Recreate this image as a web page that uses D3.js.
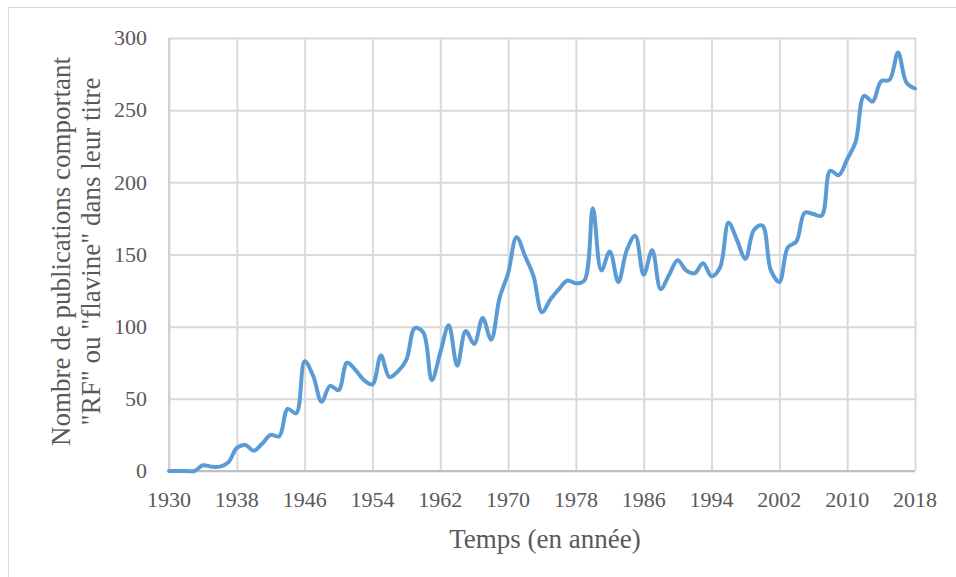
<!DOCTYPE html>
<html lang="fr">
<head>
    <meta charset="UTF-8">
    <title>Publications RF / flavine</title>
    <script src="https://d3js.org/d3.v7.min.js"></script>
    <style>
        body {
            margin: 0;
            background-color: #fff;
        }
        svg text {
            font-family: "Liberation Serif", "Times New Roman", serif;
        }
        .tick-label {
            font-size: 22px;
            fill: #595959;
        }
        .axis-title {
            font-size: 27px;
            fill: #595959;
        }
    </style>
</head>
<body>
    <div id="chart"></div>
    <script>
        // Years and yearly counts
        const years = [
            1930, 1931, 1932, 1933, 1934, 1935, 1936, 1937, 1938, 1939,
            1940, 1941, 1942, 1943, 1944, 1945, 1946, 1947, 1948, 1949,
            1950, 1951, 1952, 1953, 1954, 1955, 1956, 1957, 1958, 1959,
            1960, 1961, 1962, 1963, 1964, 1965, 1966, 1967, 1968, 1969,
            1970, 1971, 1972, 1973, 1974, 1975, 1976, 1977, 1978, 1979,
            1980, 1981, 1982, 1983, 1984, 1985, 1986, 1987, 1988, 1989,
            1990, 1991, 1992, 1993, 1994, 1995, 1996, 1997, 1998, 1999,
            2000, 2001, 2002, 2003, 2004, 2005, 2006, 2007, 2008, 2009,
            2010, 2011, 2012, 2013, 2014, 2015, 2016, 2017, 2018
        ];
        const counts = [
            0, 0, 0, 0, 4, 3, 3, 6, 16, 18,
            14, 19, 25, 24, 43, 40, 76, 66, 48, 59,
            56, 75, 70, 63, 60, 80, 65, 69, 77, 99,
            96, 63, 82, 101, 73, 97, 88, 106, 91, 120,
            137, 162, 149, 135, 110, 119, 126, 132, 130, 132,
            182, 139, 152, 131, 153, 163, 136, 153, 126, 136,
            146, 139, 137, 144, 135, 141, 172, 160, 147, 167,
            170, 139, 131, 155, 159, 179, 178, 177, 208, 205,
            216, 228, 260, 256, 270, 271, 290, 269, 265
        ];
        const xTicks = [1930, 1938, 1946, 1954, 1962, 1970, 1978, 1986, 1994, 2002, 2010, 2018];
        const yTicks = [0, 50, 100, 150, 200, 250, 300];

        const W = 956, H = 577;
        const margin = { top: 38, right: 41, bottom: 106, left: 169 };
        const width = W - margin.left - margin.right,
              height = H - margin.top - margin.bottom;

        const root = d3.select("#chart")
            .append("svg")
            .attr("width", W)
            .attr("height", H);

        // outer chart frame
        root.append("rect")
            .attr("x", 8.5).attr("y", 7.5)
            .attr("width", W + 10).attr("height", H + 10)
            .attr("fill", "none")
            .attr("stroke", "#d9d9d9")
            .attr("stroke-width", 1);

        const svg = root.append("g")
            .attr("transform", `translate(${margin.left},${margin.top})`);

        const data = years.map((y, i) => ({ year: y, value: counts[i] }));

        const x = d3.scaleLinear().domain([1930, 2018]).range([0, width]);
        const y = d3.scaleLinear().domain([0, 300]).range([height, 0]);

        // gridlines
        svg.append("g")
            .call(d3.axisLeft(y).tickValues(yTicks).tickSize(-width).tickFormat(""))
            .call(g => g.select(".domain").remove())
            .selectAll("line")
            .attr("stroke", "#d9d9d9")
            .attr("stroke-width", 2);

        svg.append("g")
            .attr("transform", `translate(0,${height})`)
            .call(d3.axisBottom(x).tickValues(xTicks).tickSize(height).tickFormat(""))
            .call(g => g.select(".domain").remove())
            .selectAll("line")
            .attr("stroke", "#d9d9d9")
            .attr("stroke-width", 2)
            .attr("y2", -height);

        // left edge and bottom axis line
        svg.append("line")
            .attr("x1", 0).attr("x2", 0)
            .attr("y1", 0).attr("y2", height)
            .attr("stroke", "#d0d0d0").attr("stroke-width", 2);
        svg.append("line")
            .attr("x1", 0).attr("x2", width)
            .attr("y1", height).attr("y2", height)
            .attr("stroke", "#bfbfbf").attr("stroke-width", 2);

        // tick labels
        svg.append("g")
            .selectAll("text")
            .data(yTicks)
            .join("text")
            .attr("class", "tick-label")
            .attr("x", -22)
            .attr("y", d => y(d))
            .attr("dy", "0.33em")
            .attr("text-anchor", "end")
            .text(d => d);

        svg.append("g")
            .selectAll("text")
            .data(xTicks)
            .join("text")
            .attr("class", "tick-label")
            .attr("x", d => x(d))
            .attr("y", height + 36)
            .attr("text-anchor", "middle")
            .text(d => d);

        // the series
        const line = d3.line()
            .x(d => x(d.year))
            .y(d => y(d.value))
            .curve(d3.curveCatmullRom.alpha(0.5));

        svg.append("path")
            .datum(data)
            .attr("fill", "none")
            .attr("stroke", "#5b9bd5")
            .attr("stroke-width", 4)
            .attr("stroke-linejoin", "round")
            .attr("stroke-linecap", "round")
            .attr("d", line);

        // axis titles
        svg.append("text")
            .attr("class", "axis-title")
            .attr("x", width / 2 + 3)
            .attr("y", height + 77)
            .attr("text-anchor", "middle")
            .text("Temps (en année)");

        const yTitle = svg.append("text")
            .attr("class", "axis-title")
            .attr("transform", `translate(${-margin.left + 70},${height / 2 - 3}) rotate(-90)`)
            .attr("text-anchor", "middle");
        yTitle.append("tspan").attr("x", 0).attr("y", 0)
            .text("Nombre de publications comportant");
        yTitle.append("tspan").attr("x", 0).attr("y", 30)
            .text("\"RF\" ou \"flavine\" dans leur titre");
    </script>
</body>
</html>
